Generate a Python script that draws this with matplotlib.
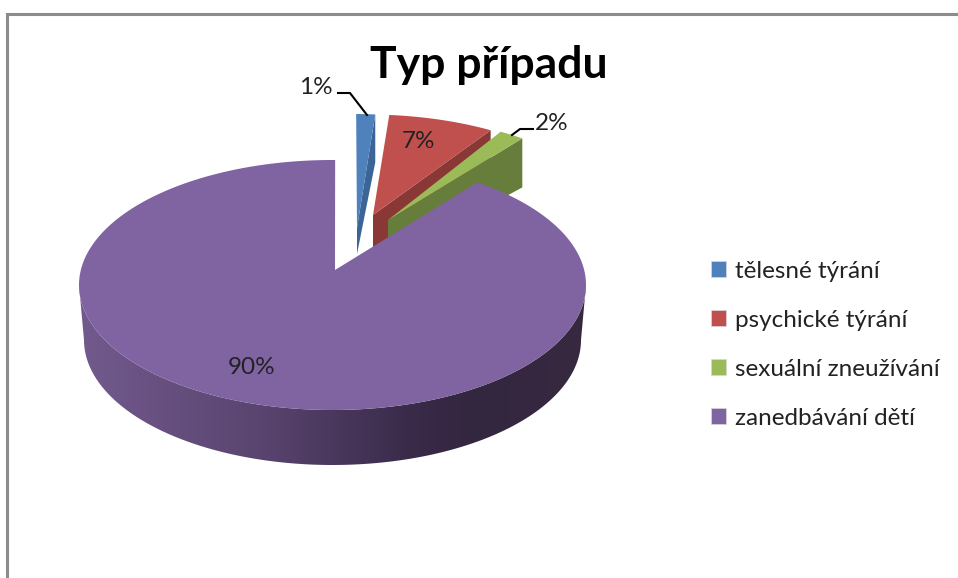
# %%
import numpy as np
import matplotlib
matplotlib.use('Agg')
import matplotlib.pyplot as plt
from matplotlib.colors import LinearSegmentedColormap
from matplotlib.patches import Patch, Polygon

categories = ['tělesné týrání', 'psychické týrání', 'sexuální zneužívání', 'zanedbávání dětí']
values = [1.2, 6.7, 1.6, 90.4]

top_colors = ['#4F81BD', '#C0504D', '#9BBB59', '#8064A2']
side_colors = ['#3B6596', '#8A3836', '#677D3B', '#5A4570']

# pixel layout of the projected pie
cx, cy, rx, ry = 332.5, 285, 253.5, 125
apex = (335, 270)
rim_shift = [(21, -46), (35, -45.5), (45, -44), (0, 0)]
apex_shift = [(22, -42), (38, -55), (53, -50), (0, 0)]
rim_depth = [48, 48, 49, 0]
apex_depth = [26, 33, 40, 0]

plt.rcParams['font.family'] = ['Lato', 'DejaVu Sans']

fig = plt.figure(figsize=(9.58, 5.78), dpi=100)
ax = fig.add_axes([0, 0, 1, 1])

# slice angles, clockwise from the top
sweeps = np.array(values) / sum(values) * 360
ends = 89.4 - np.cumsum(sweeps)
starts = ends + sweeps


def rim(theta_deg, shift=(0, 0)):
    t = np.radians(theta_deg)
    return cx + rx * np.cos(t) + shift[0], cy - ry * np.sin(t) + shift[1]


# exploded slices: inner cut face first, then top surface
for i in [1, 0, 2]:
    a = (apex[0] + apex_shift[i][0], apex[1] + apex_shift[i][1])
    ex, ey = rim(ends[i], rim_shift[i])
    ax.fill([ex, ex, a[0], a[0]], [ey, ey + rim_depth[i], a[1] + apex_depth[i], a[1]],
            color=side_colors[i], lw=0)
    ts = np.linspace(starts[i], ends[i], 40)
    xs, ys = rim(ts, rim_shift[i])
    ax.fill(np.r_[a[0], xs], np.r_[a[1], ys], color=top_colors[i], lw=0)

# front wall of the big slice, shaded left to right
wall = LinearSegmentedColormap.from_list('wall', [(0, '#725A8E'), (0.35, '#5A4570'),
                                                  (0.65, '#3A2B4A'), (0.78, '#33263F'), (1, '#36293F')])
ts = np.linspace(180, 360, 200)
top_x, top_y = rim(ts)
bot_x = cx + (rx - 5) * np.cos(np.radians(ts))
bot_y = top_y + 55
img = ax.imshow(np.linspace(0, 1, 507)[None, :], extent=(79, 586, 480, 270), cmap=wall,
                aspect='auto', zorder=0.5)
img.set_clip_path(Polygon(np.c_[np.r_[top_x, bot_x[::-1]], np.r_[top_y, bot_y[::-1]]], transform=ax.transData))

# big slice top surface
ts = np.linspace(starts[3], ends[3], 400)
xs, ys = rim(ts, rim_shift[3])
ax.fill(np.r_[apex[0], xs], np.r_[apex[1], ys], color=top_colors[3], lw=0)

ax.set_xlim(0, 958)
ax.set_ylim(578, 0)
ax.axis('off')

# frame of the chart area
ax.plot([7.5, 7.5, 958], [578, 13.5, 13.5], color='#8C8C8C', lw=2.2, solid_joinstyle='miter')

# leader lines
ax.plot([338, 350, 367], [93, 93, 115], color='black', lw=1.5)
ax.plot([512, 520, 533], [135, 129, 129], color='black', lw=1.5)

label_pos = [(316, 88), (419, 141), (552, 124), (252, 368)]
for v, (lx, ly) in zip(values, label_pos):
    ax.text(lx, ly, f'{v:.0f}%', fontsize=17.5, color='#222222', ha='center', va='center')

ax.text(489, 65, 'Typ případu', fontsize=32, fontweight='bold', color='black', ha='center', va='center')

handles = [Patch(facecolor=c, edgecolor='#D8D8D8', lw=0.5, label=n) for c, n in zip(top_colors, categories)]
ax.legend(handles=handles, loc='upper left', bbox_to_anchor=(701 / 958, 1 - 251 / 578), frameon=False,
          fontsize=17.5, handlelength=0.62, handleheight=0.62, handletextpad=0.38,
          labelspacing=1.15, labelcolor='#222222', borderpad=0.4, borderaxespad=0)

fig.savefig('out.png', dpi=100)
